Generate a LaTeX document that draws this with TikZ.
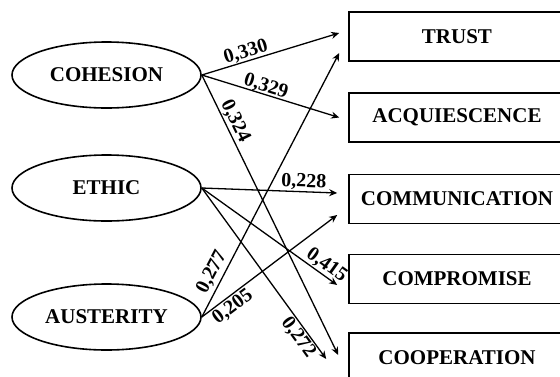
\documentclass[tikz,border=0pt]{standalone}
\usepackage{fontspec}
\setmainfont{Liberation Serif}
\usetikzlibrary{shapes.geometric,arrows.meta}

\begin{document}
\begin{tikzpicture}[x=1pt,y=-1pt,
		factor/.style={ellipse,draw,line width=1.6pt,minimum width=189pt,minimum height=66pt,inner sep=0pt,font=\fontsize{21}{24}\selectfont\bfseries},
		item/.style={rectangle,draw,line width=1.6pt,minimum width=216pt,minimum height=49pt,inner sep=0pt,font=\fontsize{21}{24}\selectfont\bfseries},
		coef/.style={sloped,inner sep=1pt,font=\fontsize{20}{22}\selectfont\bfseries},
		link/.style={->,line width=1.3pt},
		>={Stealth[length=8pt,width=7pt]}]
		\useasboundingbox (0,0) rectangle (560,376);
		
		\node[factor] (cohesion)  at (106.5, 75)  {COHESION};
		\node[factor] (ethic)     at (106.5, 188) {ETHIC};
		\node[factor] (austerity) at (106.5, 317) {AUSTERITY};
		
		\node[item] (trust)  at (457, 36.5)  {TRUST};
		\node[item] (acq)    at (457, 117.5) {ACQUIESCENCE};
		\node[item] (comm)   at (457, 199)   {COMMUNICATION};
		\node[item] (comp)   at (457, 279)   {COMPROMISE};
		\node[item] (coop)   at (457, 357.5) {COOPERATION};
		
		
		\path [link] (cohesion.east) edge node[coef,above,pos=0.34,inner sep=0pt] {0,330} ([shift={(-9,-3.5)}]trust.west);
		\path [link] (cohesion.east) edge node[coef,above,pos=0.45,inner sep=-1pt] {0,329} ([shift={(-9,0)}]acq.west);
		\path [link] (cohesion.east) edge node[coef,above,pos=0.18] {0,324} ([shift={(-10,-2.5)}]coop.west);
		
		\path [link] (ethic.east) edge node[coef,above,pos=0.75] {0,228} ([shift={(-11,-6)}]comm.west);
		\path [link] (ethic.east) edge node[coef,above,pos=0.88] {0,415} ([shift={(-11,6)}]comp.west);
		\path [link] (ethic.east) edge node[coef,below,pos=0.84] {0,272} ([shift={(-22,1.5)}]coop.west);
		
		\path [link] (austerity.east) edge node[coef,above,pos=0.15,inner sep=3pt] {0,277} ([shift={(-9,16.5)}]trust.west);
		\path [link] (austerity.east) edge node[coef,below,pos=0.18,inner sep=2pt] {0,205} ([shift={(-11,16)}]comm.west);
		
\end{tikzpicture}
\end{document}
